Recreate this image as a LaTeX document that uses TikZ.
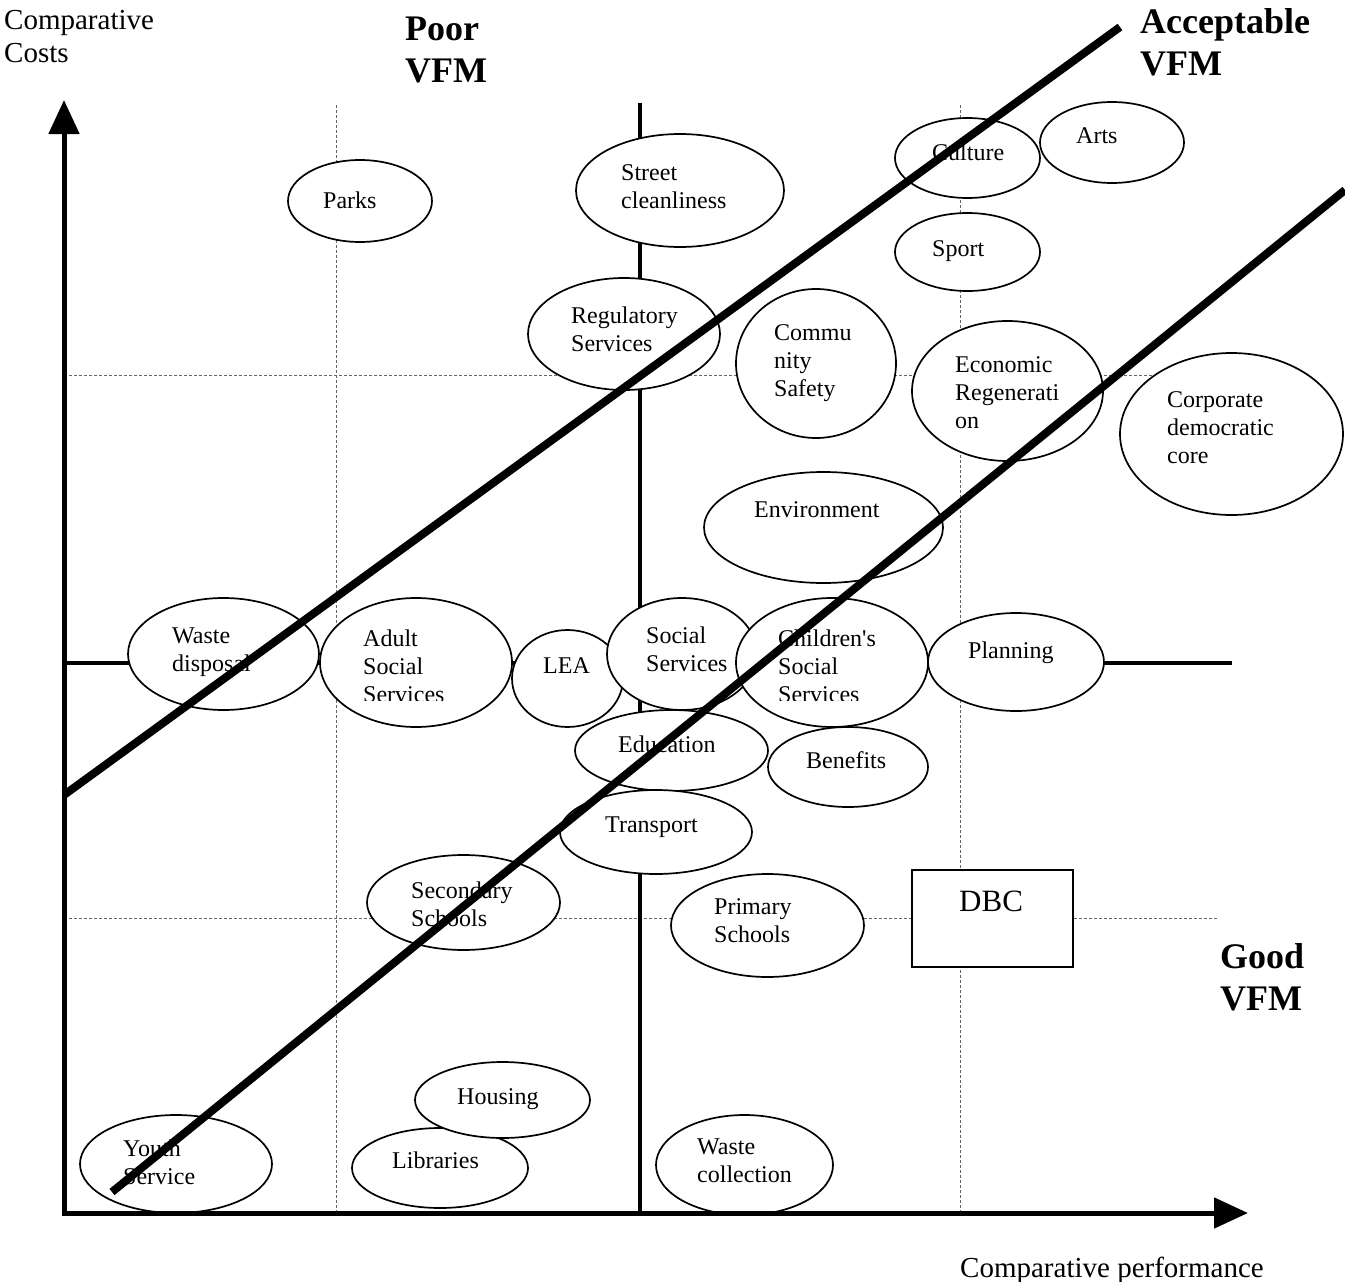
\documentclass[tikz,border=0pt]{standalone}
\usepackage{fontspec}
\setmainfont{Liberation Serif}
\usetikzlibrary{arrows.meta,shapes.geometric}
\tikzset{
  oval/.style={ellipse, draw, line width=1.7pt, fill=white, inner sep=0pt},
  boxnode/.style={rectangle, draw, line width=1.7pt, fill=white, inner sep=0pt},
  lbl/.style={anchor=base west, inner sep=0pt, align=left, font=\fontsize{24}{28}\selectfont},
  axislbl/.style={anchor=base west, inner sep=0pt, align=left, font=\fontsize{29}{33}\selectfont},
  vfmlbl/.style={anchor=base west, inner sep=0pt, align=left, font=\fontsize{36}{42}\selectfont\bfseries},
  gridline/.style={line width=1pt, draw=black!60, dash pattern=on 3pt off 2pt},
  quadline/.style={line width=3.5pt},
  axisline/.style={line width=5pt, -{Triangle[length=34pt,width=30pt]}},
  vfmline/.style={line width=8pt}
}
\begin{document}
\begin{tikzpicture}[x=1pt,y=-1pt]
\useasboundingbox (0,0) rectangle (1345,1282);

% named coordinates (multi-line labels are anchored at the baseline of their last line)
\coordinate (O) at (64,1213);
\coordinate (ytip) at (64,100);
\coordinate (xtip) at (1248,1213);
\coordinate (gA1) at (336,105);  \coordinate (gA2) at (336,1213);
\coordinate (gB1) at (960,105);  \coordinate (gB2) at (960,1213);
\coordinate (gC1) at (64,375);   \coordinate (gC2) at (1157,375);
\coordinate (gD1) at (64,918);   \coordinate (gD2) at (1217,918);
\coordinate (qV1) at (640,103);  \coordinate (qV2) at (640,1213);
\coordinate (qH1) at (64,663);   \coordinate (qH2) at (1232,663);
\coordinate (L1a) at (64,795);   \coordinate (L1b) at (1120,27);
\coordinate (L2a) at (112,1192); \coordinate (L2b) at (1345,190);

% grid
\draw[gridline] (gA1) -- (gA2);
\draw[gridline] (gB1) -- (gB2);
\draw[gridline] (gC1) -- (gC2);
\draw[gridline] (gD1) -- (gD2);
\draw[quadline] (qV1) -- (qV2);
\draw[quadline] (qH1) -- (qH2);

% ellipses
\node[oval, minimum width=144pt, minimum height=82pt] (parks) at (360,201) {};
\node[lbl] (parksT) at (323,208) {Parks};

\node[oval, minimum width=208pt, minimum height=113pt] (street) at (680,190.5) {};
\node[lbl] (streetT) at (621,208) {Street\\cleanliness};

\node[oval, minimum width=145pt, minimum height=80pt] (culture) at (967.5,158) {};
\node[lbl] (cultureT) at (932,160) {Culture};

\node[oval, minimum width=144pt, minimum height=81pt] (arts) at (1112,142.5) {};
\node[lbl] (artsT) at (1076,143) {Arts};

\node[oval, minimum width=145pt, minimum height=78pt] (sport) at (967.5,252) {};
\node[lbl] (sportT) at (932,256) {Sport};

\node[oval, minimum width=192pt, minimum height=112pt] (reg) at (624,334) {};
\node[lbl] (regT) at (571,351) {Regulatory\\Services};

\node[oval, minimum width=160pt, minimum height=149pt] (comm) at (816,363.5) {};
\node[lbl] (commT) at (774,396) {Commu\\nity\\Safety};

\node[oval, minimum width=191pt, minimum height=140pt] (econ) at (1007.5,391) {};
\node[lbl] (econT) at (955,428) {Economic\\Regenerati\\on};

\node[oval, minimum width=223pt, minimum height=162pt] (corp) at (1231.5,434) {};
\node[lbl] (corpT) at (1167,463) {Corporate\\democratic\\core};

\node[oval, minimum width=239pt, minimum height=111pt] (env) at (823.5,527.5) {};
\node[lbl] (envT) at (754,517) {Environment};

\node[oval, minimum width=191pt, minimum height=112pt] (wdisp) at (223.5,654) {};
\node[lbl] (wdispT) at (172,671) {Waste\\disposal};

\node[oval, minimum width=192pt, minimum height=129pt] (adult) at (416,662.5) {};
\begin{scope}
  \clip (355,615) rectangle (470,700);
  \node[lbl] (adultT) at (363,702) {Adult\\Social\\Services};
\end{scope}

\node[oval, minimum width=111pt, minimum height=97pt] (lea) at (567.5,678.5) {};
\node[lbl] (leaT) at (543,673) {LEA};

\node[oval, minimum width=150pt, minimum height=112pt] (social) at (682,654) {};
\node[lbl] (socialT) at (646,671) {Social\\Services};

\node[oval, minimum width=192pt, minimum height=129pt] (child) at (832,662.5) {};
\begin{scope}
  \clip (770,615) rectangle (895,700);
  \node[lbl] (childT) at (778,702) {Children\textquotesingle s\\Social\\Services};
\end{scope}

\node[oval, minimum width=176pt, minimum height=98pt] (plan) at (1016,662) {};
\node[lbl] (planT) at (968,658) {Planning};

\node[oval, minimum width=193pt, minimum height=81pt] (edu) at (671.5,750.5) {};
\node[lbl] (eduT) at (618,752) {Education};

\node[oval, minimum width=160pt, minimum height=80pt] (ben) at (848,767) {};
\node[lbl] (benT) at (806,768) {Benefits};

\node[oval, minimum width=192pt, minimum height=84pt] (trans) at (656,832) {};
\node[lbl] (transT) at (605,832) {Transport};

\node[oval, minimum width=193pt, minimum height=95pt] (sec) at (463.5,902.5) {};
\node[lbl] (secT) at (411,926) {Secondary\\Schools};

\node[oval, minimum width=193pt, minimum height=103pt] (prim) at (767.5,925.5) {};
\node[lbl] (primT) at (714,942) {Primary\\Schools};

\node[boxnode, minimum width=161pt, minimum height=97pt] (dbc) at (992.5,918.5) {};
\node[axislbl, font=\fontsize{31}{35}\selectfont] (dbcT) at (959,911) {DBC};

\node[oval, minimum width=176pt, minimum height=80pt] (lib) at (440,1168) {};
\node[lbl] (libT) at (392,1168) {Libraries};

\node[oval, minimum width=175pt, minimum height=76pt] (house) at (502.5,1100) {};
\node[lbl] (houseT) at (457,1104) {Housing};

\node[oval, minimum width=192pt, minimum height=98pt] (youth) at (176,1164) {};
\node[lbl] (youthT) at (123,1184) {Youth\\Service};

\node[oval, minimum width=177pt, minimum height=100pt] (wcoll) at (744.5,1165) {};
\node[lbl] (wcollT) at (697,1182) {Waste\\collection};

% axes
\draw[axisline] ([yshift=2.5pt]O) -- (ytip);
\draw[axisline] ([xshift=-2.5pt]O) -- (xtip);

% VFM boundary lines
\draw[vfmline] (L1a) -- (L1b);
\draw[vfmline] (L2a) -- (L2b);

% labels
\node[axislbl] (ycap) at (4,62) {Comparative\\Costs};
\node[axislbl] (xcap) at (960,1277) {Comparative performance};
\node[vfmlbl] (poor) at (405,82) {Poor\\VFM};
\node[vfmlbl] (acc) at (1140,75) {Acceptable\\VFM};
\node[vfmlbl] (good) at (1220,1010) {Good\\VFM};
\end{tikzpicture}
\end{document}
